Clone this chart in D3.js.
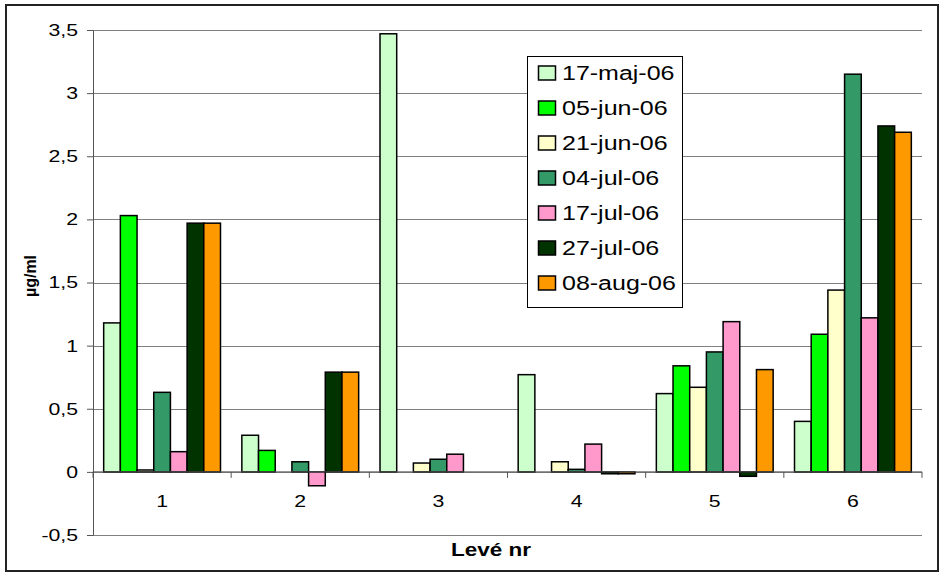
<!DOCTYPE html>
<html>
<head>
<meta charset="utf-8">
<script src="https://cdn.jsdelivr.net/npm/d3@7"></script>
<style>
  html, body { margin: 0; padding: 0; background: #fff; }
  svg { display: block; font-family: Arial, "Liberation Sans", sans-serif; }
</style>
</head>
<body>
<svg id="chart" width="940" height="574"></svg>
<script>
// categories (sample number) and series (sampling dates)
const groups = ["1", "2", "3", "4", "5", "6"];
const seriesNames = ["17-maj-06", "05-jun-06", "21-jun-06", "04-jul-06", "17-jul-06", "27-jul-06", "08-aug-06"];
const seriesColors = ["#ccffcc", "#00ff00", "#ffffcc", "#339966", "#ff99cc", "#003300", "#ff9900"];

// values in µg/ml, null = no bar
const v17maj = [1.18, 0.29, 3.47, 0.77, 0.62, 0.40];
const v05jun = [2.03, 0.17, null, null, 0.84, 1.09];
const v21jun = [0.015, null, 0.07, 0.08, 0.67, 1.44];
const v04jul = [0.63, 0.08, 0.10, 0.02, 0.95, 3.15];
const v17jul = [0.16, -0.11, 0.14, 0.22, 1.19, 1.22];
const v27jul = [1.97, 0.79, null, -0.015, -0.035, 2.74];
const v08aug = [1.97, 0.79, null, -0.015, 0.81, 2.69];
const seriesValues = [v17maj, v05jun, v21jun, v04jul, v17jul, v27jul, v08aug];

const yTicks = [-0.5, 0, 0.5, 1, 1.5, 2, 2.5, 3, 3.5];

// the picture is stretched horizontally, so text is too
const stretch = 1.25;

const svg = d3.select("#chart");
const plot = { left: 93, right: 922, top: 30, bottom: 535 };

svg.append("rect")
  .attr("x", 6).attr("y", 5).attr("width", 932).attr("height", 566)
  .attr("fill", "#fff").attr("stroke", "#222").attr("stroke-width", 2);

const y = d3.scaleLinear().domain([-0.5, 3.5]).range([plot.bottom, plot.top]);
const x0 = d3.scaleBand().domain(groups).range([plot.left, plot.right]).padding(0);
const x1 = d3.scaleBand().domain(seriesNames).range([0, x0.bandwidth()]).paddingInner(0).paddingOuter(0.64);

const fmt = d3.formatLocale({ decimal: ",", thousands: " ", grouping: [3], currency: ["", ""], minus: "-" }).format("");

// gridlines
svg.append("g")
  .selectAll("line")
  .data(yTicks)
  .join("line")
  .attr("x1", plot.left).attr("x2", plot.right)
  .attr("y1", (d) => Math.round(y(d)) + 0.5).attr("y2", (d) => Math.round(y(d)) + 0.5)
  .attr("stroke", "#808080").attr("stroke-width", 1);

// bars
const barData = [];
seriesNames.forEach((name, si) => {
  groups.forEach((g, gi) => {
    const v = seriesValues[si][gi];
    if (v === null) return;
    barData.push({ group: g, series: name, color: seriesColors[si], value: v });
  });
});

svg.append("g")
  .selectAll("rect")
  .data(barData)
  .join("rect")
  .attr("x", (d) => x0(d.group) + x1(d.series))
  .attr("width", x1.bandwidth())
  .attr("y", (d) => Math.min(y(d.value), y(0)))
  .attr("height", (d) => Math.abs(y(d.value) - y(0)))
  .attr("fill", (d) => d.color)
  .attr("stroke", "#000")
  .attr("stroke-width", 1.5);

// y axis
const yAxis = svg.append("g")
  .attr("transform", `translate(${plot.left},0)`)
  .call(d3.axisLeft(y).tickValues(yTicks).tickFormat(fmt).tickSize(6).tickSizeOuter(0));
yAxis.select(".domain").attr("stroke", "#555");
yAxis.selectAll(".tick line").attr("stroke", "#555");
yAxis.selectAll(".tick text")
  .attr("x", null)
  .attr("transform", `translate(-15,0) scale(${stretch},1)`)
  .attr("font-size", 17)
  .attr("font-family", "Arial, 'Liberation Sans', sans-serif")
  .attr("fill", "#000");

// x axis at zero
const xAxis = svg.append("g")
  .attr("transform", `translate(0,${y(0)})`)
  .call(d3.axisBottom(x0).tickSize(0).tickPadding(23));
xAxis.select(".domain").remove();
xAxis.selectAll(".tick text")
  .attr("transform", `scale(${stretch},1)`)
  .attr("font-size", 17)
  .attr("font-family", "Arial, 'Liberation Sans', sans-serif")
  .attr("fill", "#000");
xAxis.append("line")
  .attr("x1", plot.left).attr("x2", plot.right)
  .attr("y1", 0).attr("y2", 0)
  .attr("stroke", "#555");
xAxis.selectAll(".bound")
  .data(groups.map((g) => x0(g)).concat([plot.right]))
  .join("line")
  .attr("class", "bound")
  .attr("x1", (d) => d).attr("x2", (d) => d)
  .attr("y1", 0).attr("y2", 6)
  .attr("stroke", "#555");

// axis titles
svg.append("text")
  .attr("transform", `translate(491,556) scale(${stretch},1)`)
  .attr("text-anchor", "middle")
  .attr("font-size", 18)
  .attr("font-weight", "bold")
  .text("Levé nr");

svg.append("text")
  .attr("transform", "translate(30,276) rotate(-90)")
  .attr("text-anchor", "middle")
  .attr("dominant-baseline", "central")
  .attr("font-size", 16)
  .attr("font-weight", "bold")
  .text("µg/ml");

// legend
const legend = svg.append("g").attr("transform", "translate(527,56)");
legend.append("rect")
  .attr("x", 0.5).attr("y", 0.5).attr("width", 155).attr("height", 251)
  .attr("fill", "#fff").attr("stroke", "#000").attr("stroke-width", 1);

const rows = legend.selectAll(".row")
  .data(seriesNames)
  .join("g")
  .attr("class", "row")
  .attr("transform", (d, i) => `translate(0,${17 + i * 35})`);
rows.append("rect")
  .attr("x", 11.5).attr("y", -7)
  .attr("width", 17).attr("height", 14)
  .attr("fill", (d, i) => seriesColors[i])
  .attr("stroke", "#000").attr("stroke-width", 1.5);
rows.append("text")
  .attr("transform", `translate(35,7) scale(${stretch},1)`)
  .attr("font-size", 20)
  .attr("fill", "#000")
  .text((d) => d);
</script>
</body>
</html>
